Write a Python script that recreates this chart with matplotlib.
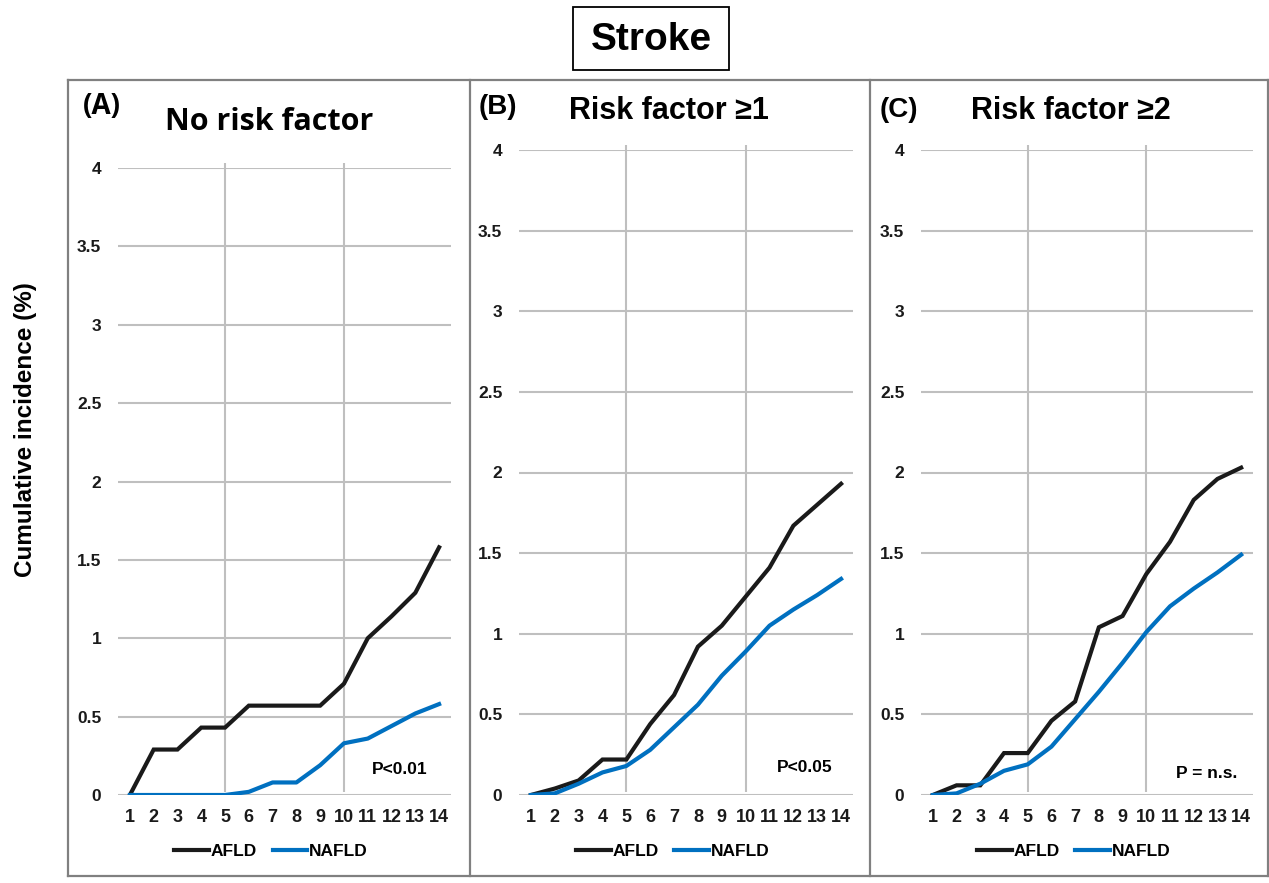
import matplotlib
matplotlib.use('Agg')
import matplotlib.pyplot as plt
from matplotlib.patches import Rectangle
from matplotlib.lines import Line2D

W, H = 1269, 883

years = list(range(1, 15))

# Panel A: no risk factor
afld_a = [0, 0.29, 0.29, 0.43, 0.43, 0.57, 0.57, 0.57, 0.57, 0.71, 1.00, 1.14, 1.29, 1.58]
nafld_a = [0, 0, 0, 0, 0, 0.02, 0.08, 0.08, 0.19, 0.33, 0.36, 0.44, 0.52, 0.58]

# Panel B: risk factor >=1
afld_b = [0, 0.04, 0.09, 0.22, 0.22, 0.44, 0.62, 0.92, 1.05, 1.23, 1.41, 1.67, 1.80, 1.93]
nafld_b = [0, 0.01, 0.07, 0.14, 0.18, 0.28, 0.42, 0.56, 0.74, 0.89, 1.05, 1.15, 1.24, 1.34]

# Panel C: risk factor >=2
afld_c = [0, 0.06, 0.06, 0.26, 0.26, 0.46, 0.58, 1.04, 1.11, 1.37, 1.57, 1.83, 1.96, 2.03]
nafld_c = [0, 0.01, 0.07, 0.15, 0.19, 0.30, 0.47, 0.64, 0.82, 1.01, 1.17, 1.28, 1.38, 1.49]

panel_labels = ['(A)', '(B)', '(C)']
panel_titles = ['No risk factor', 'Risk factor ≥1', 'Risk factor ≥2']
p_texts = ['P<0.01', 'P<0.05', 'P = n.s.']
series_names = ['AFLD', 'NAFLD']
yticks = [0, 0.5, 1, 1.5, 2, 2.5, 3, 3.5, 4]
ytick_labels = ['0', '0.5', '1', '1.5', '2', '2.5', '3', '3.5', '4']

BLACK = '#1a1a1a'
BLUE = '#0070c0'
GRID = '#bfbfbf'
FRAME = '#808080'

ARIAL = ['Liberation Sans', 'DejaVu Sans']
GOTHIC = ['Open Sans', 'DejaVu Sans']


def fx(px):
    return px / W


def fy(py):
    return 1 - py / H


fig = plt.figure(figsize=(W / 100, H / 100), dpi=100)

# outer frames of the three panels
frame_kw = dict(color=FRAME, lw=1.6, transform=fig.transFigure)
fig.add_artist(Line2D([fx(68), fx(1268)], [fy(80), fy(80)], **frame_kw))
fig.add_artist(Line2D([fx(68), fx(1268)], [fy(876), fy(876)], **frame_kw))
for xp in [68, 470, 870, 1268]:
    fig.add_artist(Line2D([fx(xp), fx(xp)], [fy(80), fy(876)], **frame_kw))

# title box
fig.add_artist(Rectangle((fx(573), fy(70)), fx(729) - fx(573), fy(7) - fy(70),
                         transform=fig.transFigure, fill=False, ec='black', lw=1.3))
fig.text(fx(651), fy(40), 'Stroke', ha='center', va='center', fontsize=28,
         fontweight='bold', family=ARIAL)

# y label
fig.text(fx(26), fy(430), 'Cumulative incidence (%)', rotation=90, ha='center',
         va='center', fontsize=17.5, fontweight='bold', family=ARIAL)

# axes geometry in pixels: left, right, y of 0, y of 4
geom = [(118, 451, 795, 168), (519, 853, 795, 150), (921, 1253, 795, 150)]
label_pos = [(102, 106), (498, 107), (899, 110)]
title_pos = [(269, 122), (669, 111), (1071, 111)]
p_pos = [(400, 769), (805, 768), (1207, 773)]
fonts = [GOTHIC, ARIAL, ARIAL]
data = [(afld_a, nafld_a), (afld_b, nafld_b), (afld_c, nafld_c)]

for i in range(3):
    l, r, y0, y4 = geom[i]
    ax = fig.add_axes([fx(l), fy(y0), fx(r) - fx(l), fy(y4) - fy(y0)])
    ax.set_xlim(0.5, 14.5)
    ax.set_ylim(0, 4)
    for s in ax.spines.values():
        s.set_visible(False)
    ax.set_yticks(yticks)
    ax.set_yticklabels(ytick_labels)
    ax.set_xticks(years)
    ax.tick_params(axis='y', length=0, pad=12, labelsize=12.5, colors='#1a1a1a')
    ax.tick_params(axis='x', length=0, pad=10, labelsize=13, colors='#1a1a1a')
    for t in ax.get_xticklabels() + ax.get_yticklabels():
        t.set_fontweight('bold')
        t.set_family(ARIAL)
    ax.grid(axis='y', color=GRID, lw=1.5)
    ax.set_axisbelow(True)
    ax.vlines([5, 10], 0.02, 4.03, color=GRID, lw=1.5, clip_on=False, zorder=0)

    afld, nafld = data[i]
    ax.plot(years, afld, color=BLACK, lw=3, label=series_names[0], solid_joinstyle='miter')
    ax.plot(years, nafld, color=BLUE, lw=3, label=series_names[1])

    leg_y = -(851 - y0) / (y0 - y4)
    ax.legend(loc='center', bbox_to_anchor=(0.46, leg_y), ncol=2, frameon=False,
              prop={'family': ARIAL, 'weight': 'bold', 'size': 12.5},
              handlelength=2.0, handletextpad=0.1, columnspacing=0.9)

    fig.text(fx(p_pos[i][0]), fy(p_pos[i][1]), p_texts[i], ha='center', va='center',
             fontsize=12.5, fontweight='bold', family=ARIAL)
    fig.text(fx(label_pos[i][0]), fy(label_pos[i][1]), panel_labels[i], ha='center',
             va='center', fontsize=20, fontweight='bold', family=fonts[i])
    fig.text(fx(title_pos[i][0]), fy(title_pos[i][1]), panel_titles[i], ha='center',
             va='center', fontsize=22, fontweight='bold', family=fonts[i])

fig.savefig('out.png', dpi=100)
